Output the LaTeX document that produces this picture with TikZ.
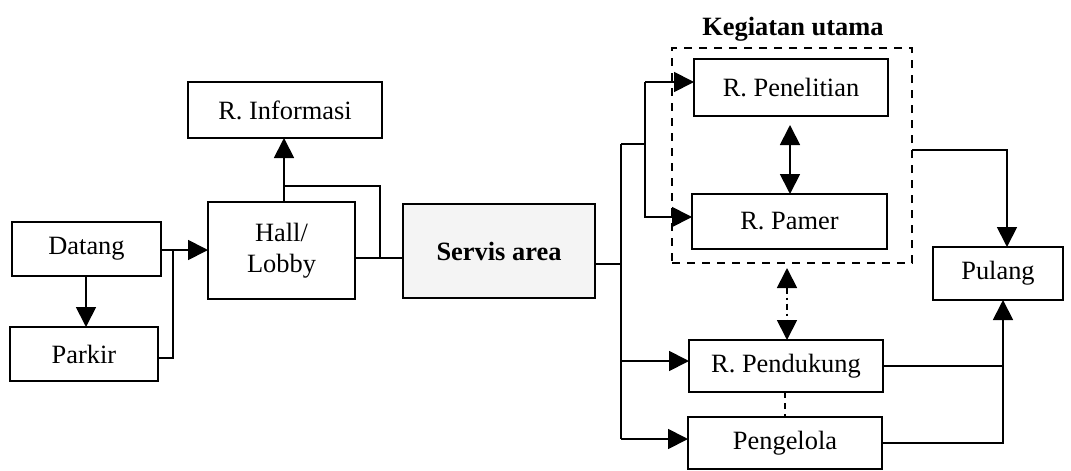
\documentclass[tikz,border=0pt]{standalone}
\usepackage{fontspec}
\setmainfont{Liberation Serif}
\usetikzlibrary{arrows.meta}
\begin{document}
\begin{tikzpicture}[x=0.5pt,y=-0.5pt,
  box/.style={draw,line width=0.9pt,inner sep=0pt,outer sep=0pt,align=center,
    font=\fontsize{13.2}{15.5}\selectfont},
  conn/.style={line width=0.9pt},
  arr/.style={conn,-{Triangle[length=10pt,width=10pt]}},
  darr/.style={conn,{Triangle[length=10pt,width=10pt]}-{Triangle[length=10pt,width=10pt]}},
  grp/.style={draw,line width=0.9pt,dash pattern=on 4pt off 3.5pt}
]
\useasboundingbox (0,0) rectangle (1071,471);
% nodes
\node[box,minimum width=74.5pt,minimum height=27pt] (datang) at (86.5,249) {Datang};
\node[box,minimum width=74pt,minimum height=27pt] (parkir) at (84,354) {Parkir};
\node[box,minimum width=73.5pt,minimum height=48.5pt] (hall) at (281.5,250.5) {Hall/\\Lobby};
\node[box,minimum width=97pt,minimum height=28pt] (info) at (285,110) {R. Informasi};
\node[box,minimum width=96pt,minimum height=47pt,fill=gray!9,font=\fontsize{13.2}{15.5}\selectfont\bfseries] (servis) at (499,251) {Servis area};
\node[box,minimum width=97pt,minimum height=28.5pt] (penelitian) at (791,87.5) {R. Penelitian};
\node[box,minimum width=97.5pt,minimum height=27.5pt] (pamer) at (789.5,221.5) {R. Pamer};
\node[box,minimum width=97pt,minimum height=26pt] (pendukung) at (786,366) {R. Pendukung};
\node[box,minimum width=97pt,minimum height=26pt] (pengelola) at (785,443) {Pengelola};
\node[box,minimum width=65pt,minimum height=26.5pt] (pulang) at (998,273.5) {Pulang};
% group box
\node[grp,inner sep=0pt,outer sep=0pt,minimum width=120pt,minimum height=107.5pt] (utama) at (792,155.5) {};
\node[font=\fontsize{13.2}{15.5}\selectfont\bfseries,anchor=base] (utamalbl) at (793,35) {Kegiatan utama};
% junction coordinates
\coordinate (j1) at (173,250);
\coordinate (j2) at (380,258);
\coordinate (j3) at (284,186);
\coordinate (j4) at (621,264);
\coordinate (j5) at (621,144);
\coordinate (j6) at (645,144);
\coordinate (j7) at (1003,366);
% connectors
\draw[arr] (datang.east |- j1) -- (hall.west |- j1);
\draw[conn] (parkir.east |- 0,358) -| (j1);
\draw[arr] (datang.south -| 86,0) -- (parkir.north -| 86,0);
\draw[conn] (hall.east |- j2) -- (servis.west |- j2);
\draw[conn] (j2) |- (j3);
\draw[arr] (hall.north -| j3) -- (info.south -| j3);
\draw[conn] (servis.east |- j4) -- (j4);
\draw[conn] (j5) -- (621,439);
\draw[conn] (j5) -- (j6);
\draw[arr] (645,82) -- (penelitian.west |- 0,82);
\draw[arr] (j6) |- (pamer.west |- 0,217);
\draw[conn] (j6) -- (645,82);
\draw[arr] (621,361) -- (pendukung.west |- 0,361);
\draw[arr] (621,439) -- (pengelola.west |- 0,439);
\draw[darr] (790,125) -- (pamer.north -| 790,0);
\draw[darr,dash pattern=on 3pt off 2pt on 1pt off 2pt] (787,268) -- (pendukung.north -| 787,0);
\draw[conn,dashed,dash pattern=on 3pt off 2.5pt] (pendukung.south -| 785,0) -- (pengelola.north -| 785,0);
\draw[arr] (utama.east |- 0,150) -| (pulang.north -| 1007,0);
\draw[conn] (pendukung.east |- j7) -- (j7);
\draw[arr] (pengelola.east |- 0,443) -| (pulang.south -| j7);
\end{tikzpicture}
\end{document}
